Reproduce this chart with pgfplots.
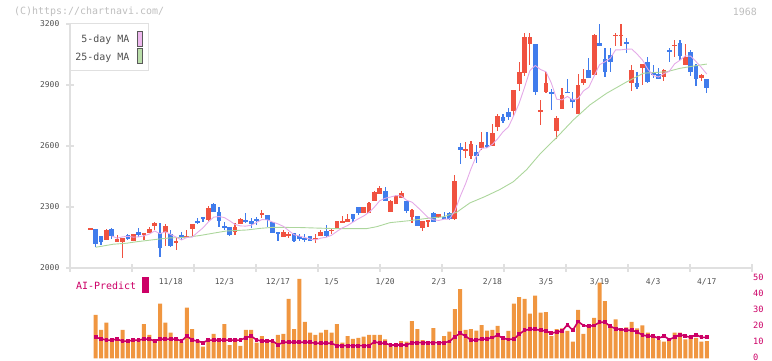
\documentclass[border=0pt]{standalone}
\usepackage{pgfplots}
\pgfplotsset{compat=1.18}
\usepackage{pgfplotstable}
\usepackage{fontspec}
\setmainfont{DejaVu Sans Mono}
\definecolor{cred}{RGB}{240,82,64}
\definecolor{cblue}{RGB}{64,124,236}
\definecolor{ma5}{RGB}{228,170,232}
\definecolor{ma25}{RGB}{172,214,156}
\definecolor{ma5fill}{RGB}{238,184,238}
\definecolor{ma25fill}{RGB}{186,222,170}
\definecolor{volcol}{RGB}{240,150,64}
\definecolor{aicol}{RGB}{204,0,102}
\definecolor{axgray}{RGB}{224,224,224}
\definecolor{txtgray}{RGB}{80,80,80}
\definecolor{ttlgray}{RGB}{190,190,190}

\pgfplotstableread{
i o h l c
-1 2192 2192 2192 2192
2 2139 2193 2139 2187
4 2129 2162 2129 2144
5 2129 2148 2048 2148
7 2133 2169 2133 2166
9 2164 2172 2139 2172
10 2174 2202 2174 2192
11 2208 2225 2188 2221
13 2179 2215 2110 2207
15 2128 2149 2089 2128
17 2146 2185 2146 2157
18 2193 2216 2159 2216
21 2236 2305 2231 2294
26 2179 2221 2161 2202
27 2218 2244 2215 2241
31 2259 2284 2246 2269
35 2154 2188 2154 2177
36 2161 2176 2148 2166
41 2144 2166 2124 2148
42 2159 2188 2159 2177
44 2182 2198 2166 2187
45 2198 2231 2192 2231
46 2223 2256 2223 2231
47 2226 2264 2226 2240
50 2270 2299 2270 2299
51 2270 2326 2270 2321
52 2330 2379 2330 2374
53 2365 2403 2362 2392
55 2275 2334 2275 2330
56 2316 2360 2316 2354
57 2346 2379 2346 2369
59 2252 2289 2220 2285
61 2198 2231 2184 2231
62 2225 2236 2200 2236
64 2251 2267 2247 2267
67 2241 2457 2238 2428
69 2578 2620 2543 2582
70 2552 2625 2535 2610
72 2592 2669 2579 2620
74 2600 2708 2600 2664
75 2695 2757 2675 2748
78 2774 2875 2749 2875
79 2906 3013 2872 2964
80 2960 3157 2944 3136
81 3100 3157 2997 3137
83 2772 2826 2703 2775
84 2867 2964 2862 2911
86 2675 2746 2634 2739
87 2782 2887 2782 2851
90 2759 2954 2759 2899
91 2911 2977 2899 2928
93 2951 3151 2951 3146
97 3144 3154 3093 3146
98 3144 3200 3093 3146
100 2911 2998 2872 2972
102 2985 3003 2900 3003
106 2941 2977 2920 2974
108 3095 3121 3039 3097
110 2998 3102 2998 3038
113 2936 2954 2921 2949
}\redc

\pgfplotstableread{
i o h l c
0 2192 2192 2105 2120
1 2157 2157 2113 2126
3 2193 2197 2144 2159
6 2161 2169 2138 2143
8 2176 2197 2151 2162
12 2172 2221 2054 2097
14 2166 2187 2105 2108
16 2162 2177 2138 2149
19 2233 2246 2215 2223
20 2251 2251 2228 2241
22 2315 2318 2277 2277
23 2275 2299 2203 2233
24 2207 2228 2188 2195
25 2202 2202 2156 2162
28 2236 2269 2221 2228
29 2230 2244 2198 2216
30 2238 2251 2210 2235
32 2261 2261 2202 2238
33 2226 2226 2174 2174
34 2177 2177 2134 2169
37 2172 2172 2129 2133
38 2157 2169 2131 2141
39 2146 2169 2129 2136
40 2157 2157 2134 2134
43 2182 2210 2154 2159
48 2266 2266 2228 2240
49 2299 2299 2259 2270
54 2379 2400 2330 2330
58 2330 2330 2272 2282
60 2256 2256 2208 2208
63 2272 2277 2225 2225
65 2249 2274 2241 2241
66 2272 2277 2236 2240
68 2597 2616 2512 2582
71 2571 2603 2518 2552
73 2603 2669 2590 2595
76 2743 2757 2713 2723
77 2769 2787 2726 2743
82 3102 3102 2851 2867
85 2862 2879 2777 2859
88 2867 2928 2862 2862
89 2831 2866 2785 2818
92 2972 3033 2936 2936
94 3107 3200 3092 3092
95 3028 3082 2941 2965
96 3048 3082 2965 3015
99 3111 3130 3059 3105
101 2908 2965 2880 2892
103 3013 3038 2911 2916
104 2960 2998 2936 2953
105 2954 2982 2931 2931
107 3072 3081 3013 3064
109 3105 3121 3024 3044
111 3062 3072 2946 2965
112 2993 3003 2897 2931
114 2930 2930 2862 2887
}\bluec

\pgfplotstableread{
i v
3 2157
4 2147
5 2153
6 2156
7 2152
8 2153
9 2158
10 2167
11 2182
12 2169
13 2178
14 2165
15 2152
16 2138
17 2150
18 2152
19 2175
20 2197
21 2226
22 2250
23 2253
24 2248
25 2232
26 2214
27 2207
28 2206
29 2210
30 2224
31 2238
32 2237
33 2226
34 2217
35 2205
36 2184
37 2164
38 2157
39 2150
40 2142
41 2138
42 2147
43 2151
44 2161
45 2180
46 2197
47 2209
48 2226
49 2242
50 2256
51 2274
52 2300
53 2331
54 2343
55 2349
56 2356
57 2355
58 2333
59 2324
60 2300
61 2275
62 2248
63 2237
64 2234
65 2240
66 2241
67 2280
68 2352
69 2414
70 2487
71 2550
72 2589
73 2591
74 2608
75 2636
76 2670
77 2694
78 2750
79 2810
80 2888
81 2971
82 2996
83 2976
84 2965
85 2910
86 2830
87 2827
88 2844
89 2826
90 2834
91 2871
92 2889
93 2945
94 3000
95 3014
96 3031
97 3073
98 3073
99 3076
100 3077
101 3052
102 3023
103 2978
104 2947
105 2939
106 2956
107 2967
108 3004
109 3022
110 3043
111 3042
112 3015
113 2986
114 2954
}\mafive

\pgfplotstableread{
i v
0 2102
3.3 2117
5.8 2122
7.6 2129
9.5 2135
12 2143
13.9 2148
17 2151
19.5 2160
21.9 2171
24.4 2182
28.2 2187
30.7 2195
33.1 2200
38.1 2199
44.3 2194
50.6 2194
52.4 2203
54.9 2223
58.6 2233
61.8 2244
64.9 2252
67.4 2275
69.8 2320
72.6 2351
75.4 2386
77.9 2424
80.4 2484
82.9 2561
86 2642
89.1 2728
92.2 2802
95.3 2859
99.1 2916
102.2 2958
106.5 2965
109 2982
111.5 2993
114 3003
}\matwentyfive

\pgfplotstableread{
i v a
0 27.1 13.1
1 17.7 12.2
2 22.3 11.4
3 11.9 11.4
4 11.9 12.0
5 17.7 10.7
6 11.4 10.7
7 11.9 11.4
8 11.9 11.4
9 21.4 12.0
10 14.6 12.0
11 11.9 10.8
12 34.1 12.0
13 22.3 12.0
14 16.0 12.0
15 12.5 12.0
16 10.4 10.8
17 31.6 13.9
18 18.3 11.4
19 11.4 10.8
20 7.3 9.8
21 11.4 11.4
22 15.2 11.4
23 11.4 11.4
24 21.4 11.4
25 8.3 11.4
26 12.5 11.4
27 7.7 11.4
28 17.7 12.9
29 17.7 13.9
30 9.8 11.5
31 13.9 10.8
32 11.4 10.8
33 10.4 10.8
34 14.6 8.5
35 15.2 10.0
36 37.1 10.0
37 18.3 10.0
38 49.6 10.0
39 22.7 10.0
40 16.0 10.0
41 14.6 9.4
42 16.0 9.4
43 17.7 9.4
44 16.0 9.4
45 21.4 7.9
46 9.8 7.9
47 13.9 7.9
48 12.1 7.9
49 12.7 7.9
50 13.5 7.9
51 14.6 7.9
52 14.6 10.4
53 14.6 9.4
54 11.9 9.4
55 8.3 8.3
56 8.3 8.3
57 10.8 8.3
58 10.4 8.3
59 23.3 9.8
60 18.3 9.8
61 11.4 9.8
62 8.3 9.8
63 18.9 9.8
64 8.3 9.8
65 13.9 9.8
66 16.6 10.5
67 30.8 13.5
68 43.3 15.6
69 17.7 13.9
70 18.3 11.4
71 17.3 11.4
72 20.8 12.0
73 17.3 12.0
74 17.7 13.0
75 20.2 14.4
76 13.0 12.5
77 17.1 11.8
78 34.1 12.0
79 38.3 15.0
80 37.1 17.5
81 27.9 18.1
82 39.2 18.1
83 28.5 17.5
84 28.9 17.1
85 13.9 15.6
86 18.3 16.5
87 18.7 17.0
88 17.1 21.0
89 10.4 17.5
90 30.2 23.0
91 15.2 20.5
92 19.8 20.0
93 25.2 20.5
94 47.3 22.5
95 35.8 22.5
96 19.1 20.0
97 24.4 18.5
98 17.1 18.0
99 19.4 17.5
100 22.7 17.5
101 18.7 16.5
102 20.6 14.5
103 16.0 13.9
104 13.9 13.9
105 11.4 12.5
106 10.4 13.9
107 12.5 11.8
108 16.0 13.1
109 16.0 14.8
110 11.9 13.9
111 12.7 13.1
112 12.7 14.8
113 10.4 13.1
114 10.8 13.1
}\voltab

\newcommand{\fs}[1]{\fontsize{#1}{#1}\selectfont}

\begin{document}
\begin{tikzpicture}
\useasboundingbox (0,0) rectangle (772bp,361bp);

% ---------- price panel ----------
\begin{axis}[
  at={(70bp,93bp)}, anchor=south west,
  scale only axis, width=682bp, height=244bp,
  xmin=-4.795, xmax=122.44, ymin=2000, ymax=3200,
  axis x line*=bottom, axis y line*=left,
  x axis line style={-, draw=axgray, line width=1.2bp},
  y axis line style={-, draw=axgray, line width=1.2bp},
  xtick={-4.795,6.772,18.339,29.906,41.473,53.04,64.607,76.174,87.741,99.308,110.875,122.44},
  ytick={2000,2300,2600,2900,3200},
  xticklabels={}, yticklabels={},
  tick align=center, major tick length=8bp,
  tick style={draw=axgray, line width=1.2bp},
  clip=false,
]
% wicks
\addplot[draw=none, mark=none, forget plot,
  error bars/.cd, y dir=both, y explicit, error mark=none,
  error bar style={draw=cred, line width=1.2bp}]
  table[x=i, y expr={(\thisrow{h}+\thisrow{l})/2}, y error expr={(\thisrow{h}-\thisrow{l})/2}] {\redc};
\addplot[draw=none, mark=none, forget plot,
  error bars/.cd, y dir=both, y explicit, error mark=none,
  error bar style={draw=cblue, line width=1.2bp}]
  table[x=i, y expr={(\thisrow{h}+\thisrow{l})/2}, y error expr={(\thisrow{h}-\thisrow{l})/2}] {\bluec};
% bodies
\addplot[draw=none, mark=none, forget plot,
  error bars/.cd, y dir=both, y explicit, error mark=none,
  error bar style={draw=cred, line width=4.7bp}]
  table[x=i, y expr={(\thisrow{o}+\thisrow{c})/2}, y error expr={max(abs(\thisrow{o}-\thisrow{c})/2,3)}] {\redc};
\addplot[draw=none, mark=none, forget plot,
  error bars/.cd, y dir=both, y explicit, error mark=none,
  error bar style={draw=cblue, line width=4.7bp}]
  table[x=i, y expr={(\thisrow{o}+\thisrow{c})/2}, y error expr={max(abs(\thisrow{o}-\thisrow{c})/2,3)}] {\bluec};
% moving averages
\addplot[ma25, line width=0.9bp, mark=none] table[x=i, y=v] {\matwentyfive};
\addplot[ma5, line width=0.9bp, mark=none] table[x=i, y=v] {\mafive};

\pgfplotsinvokeforeach{2000,2300,2600,2900,3200}{
  \node[anchor=east, inner sep=0pt, text=txtgray, font=\fs{8}] at (axis cs:-4.795,#1) [xshift=-10.5bp] {#1};
}
\node[text=txtgray, inner sep=0pt, font=\fs{8}] at (axis cs:14,2000) [yshift=-14bp] {11/18};
\node[text=txtgray, inner sep=0pt, font=\fs{8}] at (axis cs:24,2000) [yshift=-14bp] {12/3};
\node[text=txtgray, inner sep=0pt, font=\fs{8}] at (axis cs:34,2000) [yshift=-14bp] {12/17};
\node[text=txtgray, inner sep=0pt, font=\fs{8}] at (axis cs:44,2000) [yshift=-14bp] {1/5};
\node[text=txtgray, inner sep=0pt, font=\fs{8}] at (axis cs:54,2000) [yshift=-14bp] {1/20};
\node[text=txtgray, inner sep=0pt, font=\fs{8}] at (axis cs:64,2000) [yshift=-14bp] {2/3};
\node[text=txtgray, inner sep=0pt, font=\fs{8}] at (axis cs:74,2000) [yshift=-14bp] {2/18};
\node[text=txtgray, inner sep=0pt, font=\fs{8}] at (axis cs:84,2000) [yshift=-14bp] {3/5};
\node[text=txtgray, inner sep=0pt, font=\fs{8}] at (axis cs:94,2000) [yshift=-14bp] {3/19};
\node[text=txtgray, inner sep=0pt, font=\fs{8}] at (axis cs:104,2000) [yshift=-14bp] {4/3};
\node[text=txtgray, inner sep=0pt, font=\fs{8}] at (axis cs:114,2000) [yshift=-14bp] {4/17};
\end{axis}

% ---------- volume / AI panel ----------
\begin{axis}[
  at={(70bp,2.7bp)}, anchor=south west,
  scale only axis, width=682bp, height=80bp,
  xmin=-4.795, xmax=122.44, ymin=0, ymax=50,
  hide x axis,
  axis y line*=right,
  y axis line style={draw=none},
  ytick={0,10,20,30,40,50},
  major tick length=0pt, ytick style={draw=none},
  yticklabel style={font=\fs{8.7}, text=aicol, anchor=west, inner sep=0pt, xshift=1bp, yshift=1bp},
  /pgf/number format/assume math mode=true,
  clip=false,
]
\addplot[ybar, bar width=4bp, fill=volcol, draw=none, bar shift=0pt] table[x=i, y=v] {\voltab};
\addplot[aicol, line width=1.6bp, mark=square*, mark size=1.1bp, mark options={solid, fill=aicol, draw=aicol}] table[x=i, y=a] {\voltab};
\end{axis}

% ---------- decorations ----------
\node[anchor=west, inner sep=0pt, text=ttlgray, font=\fs{10}] at (14bp,349bp) {(C)https://chartnavi.com/};
\node[anchor=east, inner sep=0pt, text=ttlgray, font=\fs{10}] at (757bp,349bp) {1968};

\draw[draw=axgray, fill=white, line width=1bp] (70.3bp,290bp) rectangle (148.3bp,337bp);
\node[anchor=east, inner sep=0pt, text=txtgray, font=\fs{10}] at (129.5bp,321.7bp) {5-day MA};
\node[anchor=east, inner sep=0pt, text=txtgray, font=\fs{10}] at (129.5bp,303.7bp) {25-day MA};
\draw[draw=black!65, fill=ma5fill, line width=0.8bp] (136.9bp,314.3bp) rectangle (142.1bp,329.7bp);
\draw[draw=black!65, fill=ma25fill, line width=0.8bp] (136.9bp,297.7bp) rectangle (142.1bp,312.3bp);

\node[anchor=west, inner sep=0pt, text=aicol, font=\fs{10}] at (76bp,75bp) {AI-Predict};
\fill[aicol] (142.3bp,68.3bp) rectangle (148.7bp,83.7bp);
\end{tikzpicture}
\end{document}
